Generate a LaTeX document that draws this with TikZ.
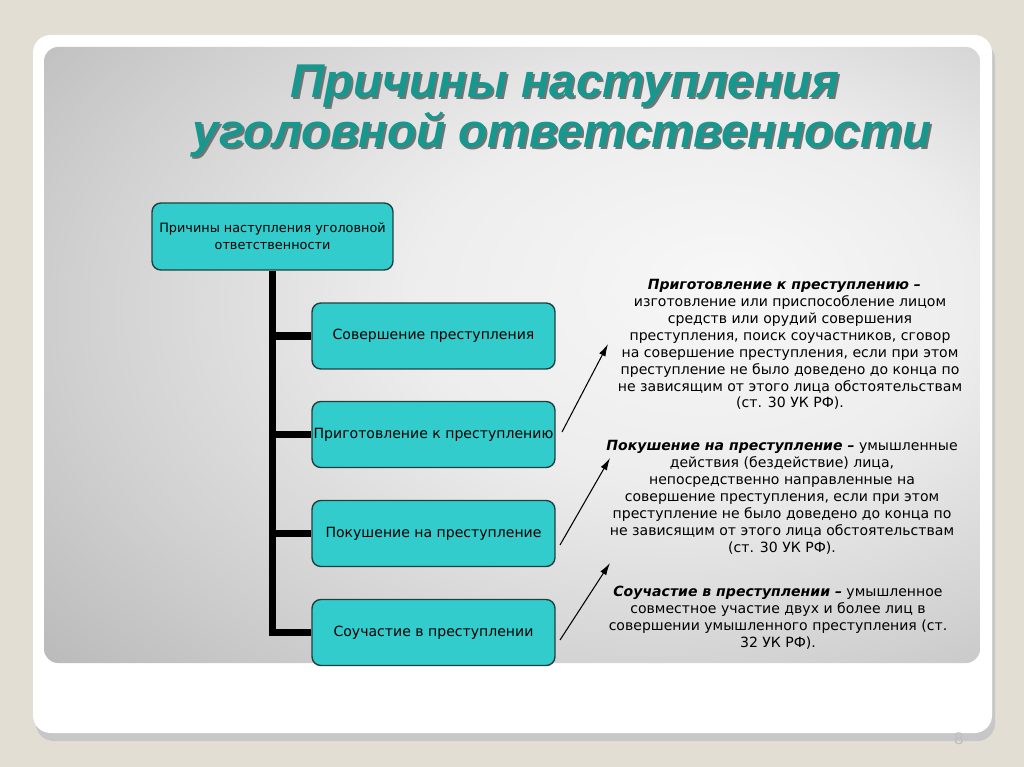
\documentclass[tikz,border=0pt]{standalone}
\usepackage{fontspec}
\setmainfont{DejaVu Sans}
\newfontfamily\titlefont{Liberation Sans}
\usetikzlibrary{arrows.meta,calc}
\definecolor{slidebg}{HTML}{E2DED3}
\definecolor{boxfill}{HTML}{33CCCC}
\definecolor{boxline}{HTML}{1F3F3F}
\definecolor{titleteal}{HTML}{17978D}
\pgfdeclareradialshading{panelshade}{\pgfpoint{12bp}{6bp}}{%
  color(0bp)=(black!3); color(15bp)=(black!7); color(30bp)=(black!18);
  color(45bp)=(black!30); color(58bp)=(black!37); color(75bp)=(black!38)}
\tikzset{
  causebox/.style={draw=boxline, line width=0.8pt, fill=boxfill, rounded corners=5pt,
    minimum width=4.86cm, minimum height=1.32cm, inner xsep=0pt, inner ysep=1pt, align=center,
    font=\fontsize{8}{9.6}\selectfont},
  note/.style={align=center, inner sep=0pt, font=\fontsize{8}{9.64}\selectfont},
  pointer/.style={-{Latex[length=7pt,width=4pt]}, line width=0.6pt},
  branch/.style={line width=4pt},
  headline/.style={anchor=base, inner sep=0pt, text=titleteal,
    font=\titlefont\bfseries\itshape\fontsize{27}{28}\selectfont},
  headshadow/.style={headline, text=black!55}
}
\begin{document}
\begin{tikzpicture}[x=0.02cm, y=-0.02cm]
			%%%%% SLIDE %%%%%
			\fill[slidebg] (0,0) rectangle (1024,767);
			\useasboundingbox (0,0) rectangle (1024,767);
			\fill[black!22, rounded corners=10pt] (36,42) rectangle (995,741);
			\fill[white, rounded corners=10pt] (33,35) rectangle (992,733);
			\shade[rounded corners=8pt, shading=panelshade] (44,47) rectangle (980,663);
			
			%%%%% TITLE %%%%%
			\node[headshadow] at (567,100) {Причины наступления};
			\node[headshadow] at (564,150) {уголовной ответственности};
			\node[headline] (titleA) at (565,98) {Причины наступления};
			\node[headline] (titleB) at (562,148) {уголовной ответственности};
			
			%%%%% BOXES %%%%%
			\node[causebox, minimum width=4.82cm, minimum height=1.34cm, font=\fontsize{7.3}{9.6}\selectfont]
			  (root) at (272.5,236.5) {Причины наступления уголовной\\ответственности};
			\node[causebox] (crime) at (433.5,336) {Совершение преступления};
			\node[causebox] (prep) at (433.5,434.5) {Приготовление к преступлению};
			\node[causebox] (attempt) at (433.5,533.5) {Покушение на преступление};
			\node[causebox] (compl) at (433.5,632.5) {Соучастие в преступлении};
			
			\draw[branch] (root.south) |- (compl.west);
			\foreach \b in {crime,prep,attempt}
			  \draw[branch] (root.south |- \b.west) -- (\b.west);
			
			%%%%% NOTES %%%%%
			\node[note] (prepNote) at (790,344.5) {\textbf{\textit{Приготовление к преступлению –}}\hspace*{0.8em}\\
			  изготовление или приспособление лицом\\
			  средств или орудий совершения\\
			  преступления, поиск соучастников, сговор\\
			  на совершение преступления, если при этом\\
			  преступление не было доведено до конца по\\
			  не зависящим от этого лица обстоятельствам\\
			  (ст. 30 УК РФ).};
			\node[note] (attemptNote) at (782,497) {\textbf{\textit{Покушение на преступление –}} умышленные\\
			  действия (бездействие) лица,\\
			  непосредственно направленные на\\
			  совершение преступления, если при этом\\
			  преступление не было доведено до конца по\\
			  не зависящим от этого лица обстоятельствам\\
			  (ст. 30 УК РФ).};
			\node[note] (complNote) at (778,617.5) {\textbf{\textit{Соучастие в преступлении –}} умышленное\\
			  совместное участие двух и более лиц в\\
			  совершении умышленного преступления (ст.\\
			  32 УК РФ).};
			
			%%%%% ARROWS %%%%%
			\coordinate (prepTail) at (562,432);
			\coordinate (prepTip) at (608,344);
			\coordinate (attemptTail) at (560,545);
			\coordinate (attemptTip) at (610,458);
			\coordinate (complTail) at (560,640);
			\coordinate (complTip) at (610,563);
			\draw[pointer] (prepTail) -- (prepTip);
			\draw[pointer] (attemptTail) -- (attemptTip);
			\draw[pointer] (complTail) -- (complTip);
			
			\node[text=black!25, font=\fontsize{9}{9}\selectfont] (pagenum) at (959,739) {8};
			%%%%% END %%%%%
\end{tikzpicture}
\end{document}
